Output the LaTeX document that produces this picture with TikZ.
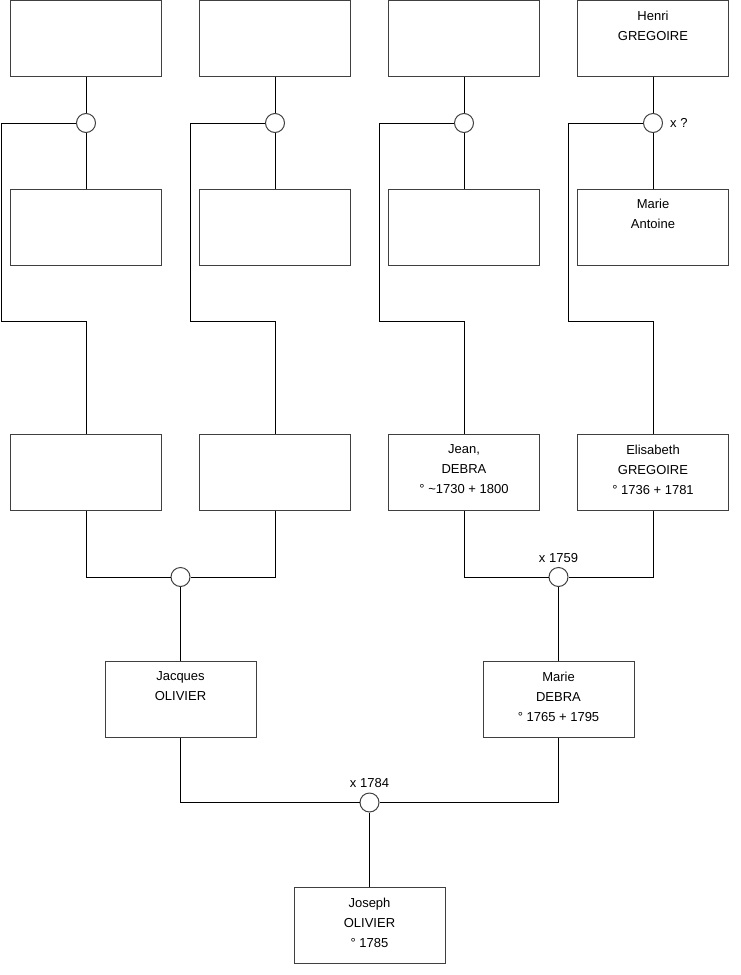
\documentclass[tikz,border=0pt]{standalone}
\usepackage{fontspec}
\setmainfont{Liberation Sans}
\definecolor{BoxGray}{RGB}{64,64,64}
\tikzset{
  ibox/.style={draw=BoxGray,fill=white,minimum width=151pt,minimum height=76pt,
               align=center,font=\fontsize{13}{20}\selectfont,
               inner sep=0pt,line width=1pt},
  mrg/.style={draw=BoxGray,fill=white,circle,minimum size=19pt,
              inner sep=0pt,line width=1pt},
  lbl/.style={font=\fontsize{13}{20}\selectfont,inner sep=2pt},
  ln/.style={black,line width=1pt},
}
\begin{document}
\begin{tikzpicture}[x=1pt,y=-1pt]
        \useasboundingbox (0,0) rectangle (740,975);
        % great-grandparents
        \node[ibox] (a1) at (86,38.5) {};
        \node[ibox] (a2) at (275,38.5) {};
        \node[ibox] (a3) at (464,38.5) {};
        \node[ibox] (a4) at (653,38.5) {Henri\\GREGOIRE\\\strut};
        \node[mrg] (ua1) at (86,123) {};
        \node[mrg] (ua2) at (275,123) {};
        \node[mrg] (ua3) at (464,123) {};
        \node[mrg,label={[lbl,label distance=5pt]right:x ?}] (ua4) at (653,123) {};
        \node[ibox] (b1) at (86,227) {};
        \node[ibox] (b2) at (275,227) {};
        \node[ibox] (b3) at (464,227) {};
        \node[ibox] (b4) at (653,227) {Marie\\Antoine\\\strut};
        \coordinate (k1) at (1.5,321.5);
        \coordinate (k2) at (190.5,321.5);
        \coordinate (k3) at (379.5,321.5);
        \coordinate (k4) at (568.5,321.5);
        % grandparents
        \node[ibox] (c1) at (86,472.5) {};
        \node[ibox] (c2) at (275,472.5) {};
        \node[ibox] (c3) at (464,472.5) {Jean,\\DEBRA\\° \textasciitilde1730 + 1800\strut};
        \node[ibox] (c4) at (653,472.5) {Elisabeth\\GREGOIRE\\° 1736 + 1781\strut};
        \node[mrg] (uc1) at (180.5,577) {};
        \node[mrg,label={[lbl,label distance=2.5pt]above:x 1759}] (uc2) at (558.5,577) {};
        % parents
        \node[ibox] (d1) at (180.5,699.5) {Jacques\\OLIVIER\\\strut};
        \node[ibox] (d2) at (558.5,699.5) {Marie\\DEBRA\\° 1765 + 1795\strut};
        \node[mrg,label={[lbl,label distance=2.5pt]above:x 1784}] (ud) at (369.5,802.5) {};
        \node[ibox] (e) at (369.5,925.5) {Joseph\\OLIVIER\\° 1785\strut};
        % links
        \draw[ln] (a1)--(ua1)--(b1); \draw[ln] (a2)--(ua2)--(b2);
        \draw[ln] (a3)--(ua3)--(b3); \draw[ln] (a4)--(ua4)--(b4);
        \draw[ln] (ua1) -| (k1) -| (c1); \draw[ln] (ua2) -| (k2) -| (c2);
        \draw[ln] (ua3) -| (k3) -| (c3); \draw[ln] (ua4) -| (k4) -| (c4);
        \draw[ln] (c1) |- (uc1); \draw[ln] (c2) |- (uc1); \draw[ln] (uc1)--(d1);
        \draw[ln] (c3) |- (uc2); \draw[ln] (c4) |- (uc2); \draw[ln] (uc2)--(d2);
        \draw[ln] (d1) |- (ud); \draw[ln] (d2) |- (ud); \draw[ln] (ud)--(e);
      \end{tikzpicture}
\end{document}
